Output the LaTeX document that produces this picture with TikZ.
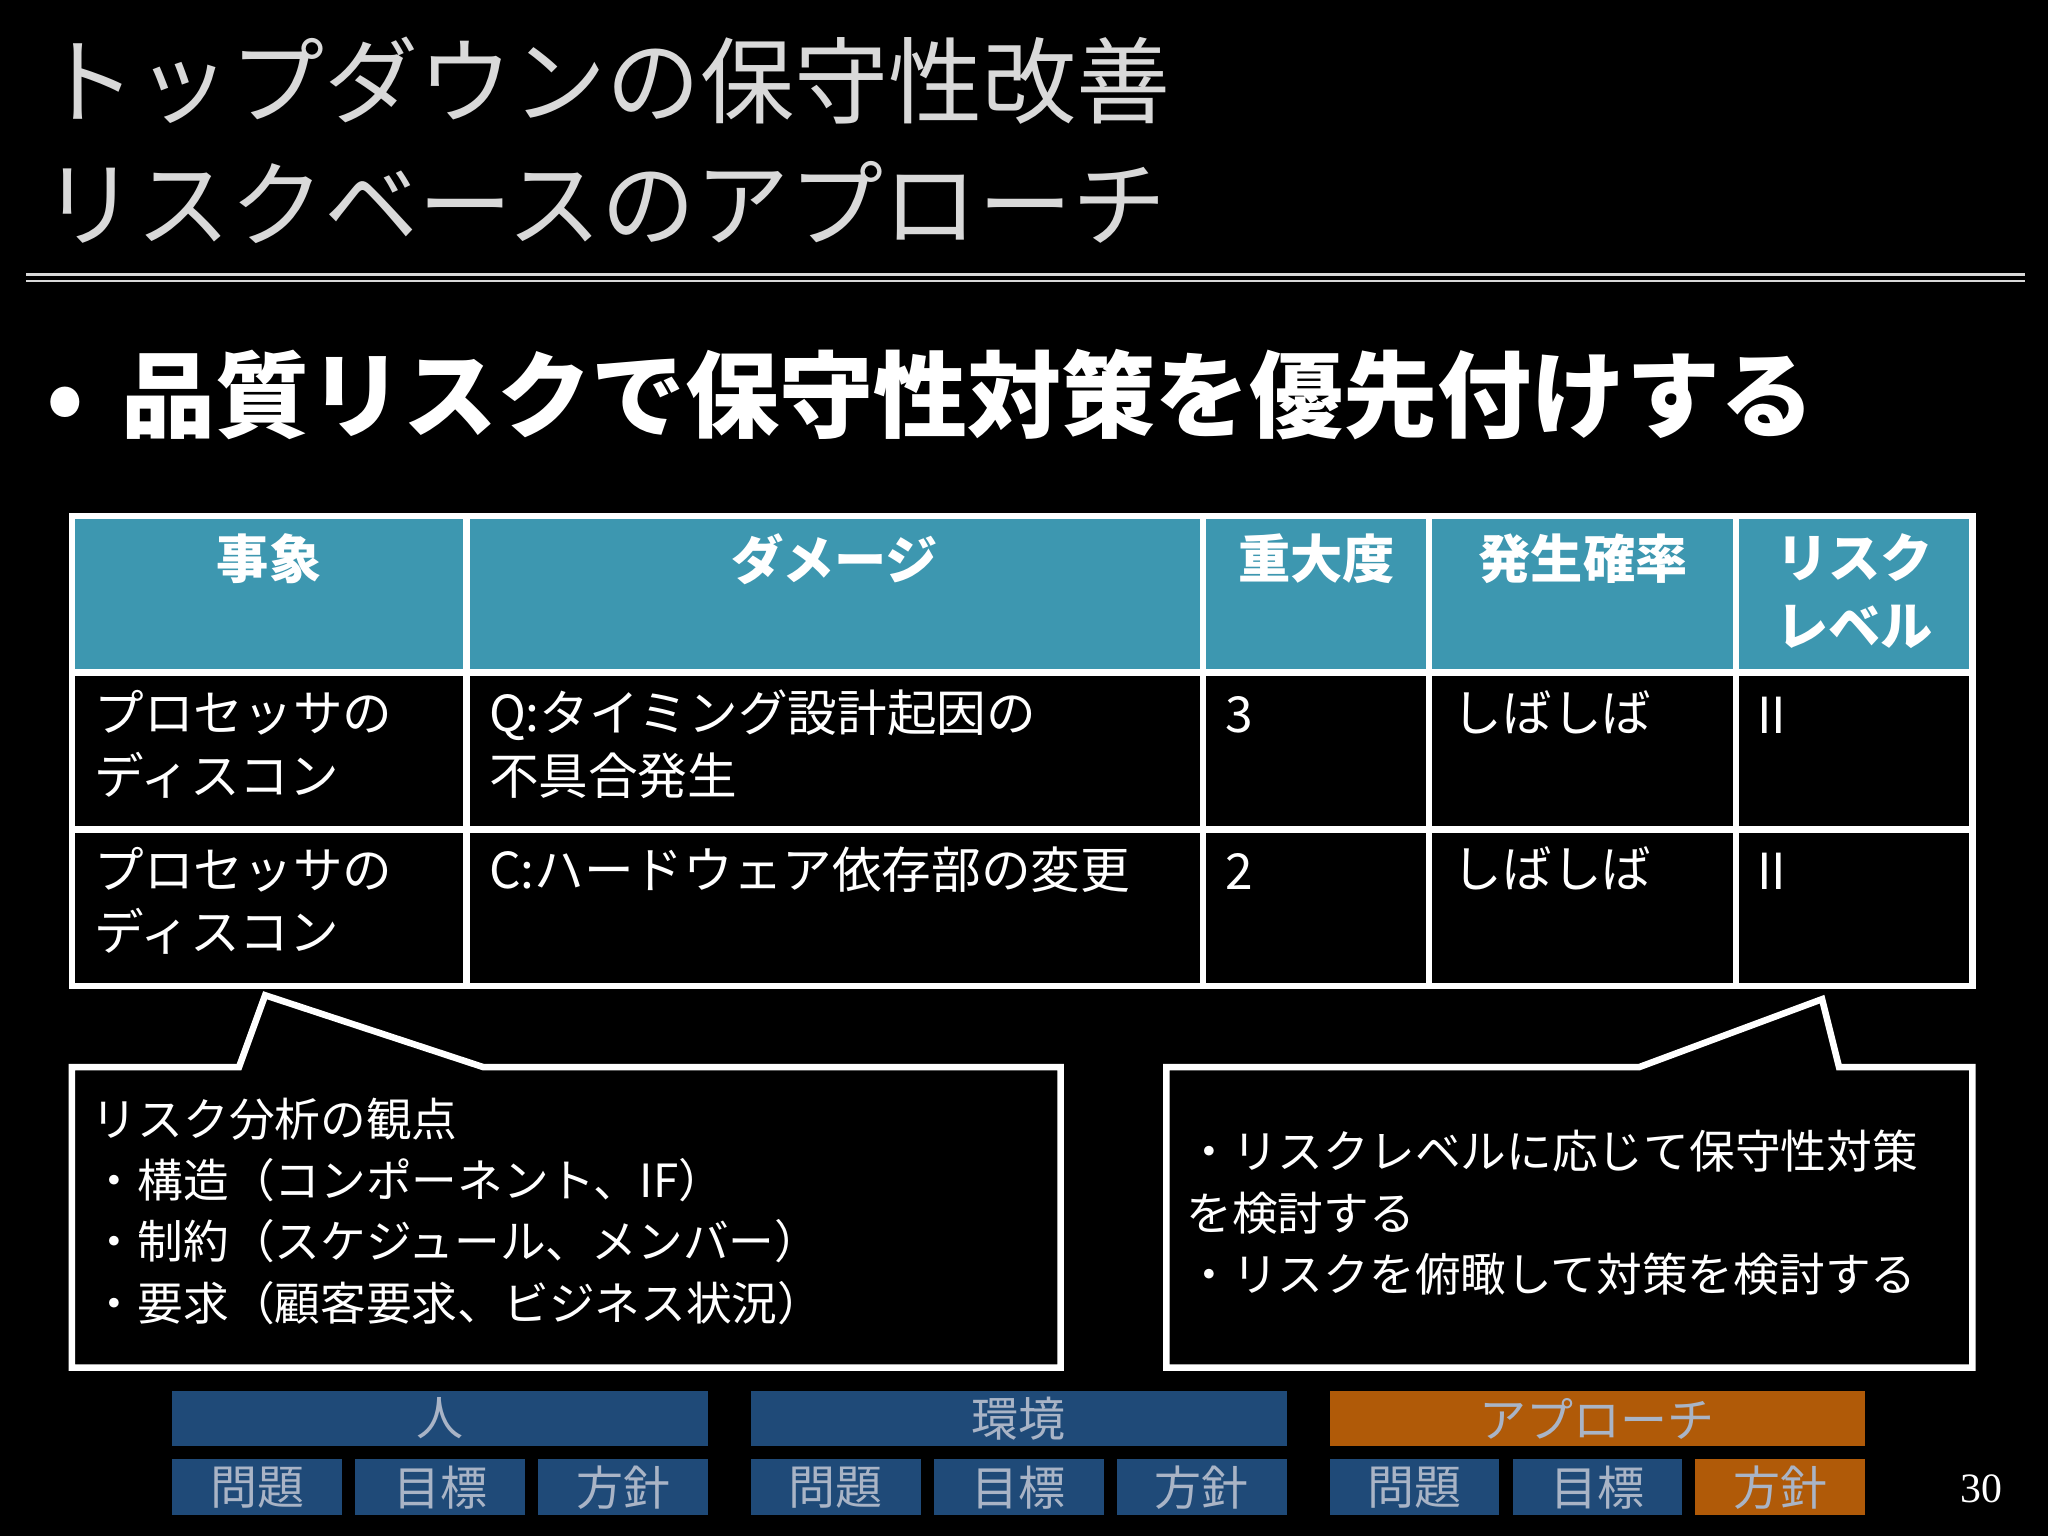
\documentclass[tikz,border=0pt]{standalone}
\usepackage{fontspec}
\setmainfont{Noto Sans CJK JP}
\newfontfamily\serifnum{Liberation Serif}
\definecolor{teal1}{HTML}{3D97B0}
\definecolor{bar}{HTML}{1F4A78}
\definecolor{orng}{HTML}{B05A08}
\definecolor{bartxt}{HTML}{A9B4C6}
\definecolor{ttl}{HTML}{D9D9D9}
\tikzset{
 cell/.style={anchor=north west,text=white,font=\fontsize{19}{24}\selectfont,align=left,inner sep=0pt},
 hcell/.style={anchor=north,text=white,font=\bfseries\fontsize{20}{26}\selectfont,align=center,inner sep=0pt},
 bartext/.style={text=bartxt,font=\fontsize{18}{20}\selectfont},
 line/.style={draw=white,line width=2.5pt},
}
\begin{document}
\begin{tikzpicture}[x=0.5pt,y=-0.5pt]
\fill[black] (0,0) rectangle (1568,1176);
\useasboundingbox (0,0) rectangle (1568,1176);
% title
\node[anchor=west,text=ttl,font=\fontsize{36}{40}\selectfont,inner sep=0pt] (t1) at (32,62) {トップダウンの保守性改善};
\node[anchor=west,text=ttl,font=\fontsize{36}{40}\selectfont,inner sep=0pt] (t2) at (32,155) {リスクベースのアプローチ};
\draw[ttl,line width=1pt] (20,210) -- (1550,210);
\draw[ttl,line width=1pt] (20,215) -- (1550,215);
\node[anchor=west,text=white,font=\bfseries\fontsize{36}{40}\selectfont,inner sep=0pt] (b) at (35,302) {•\hspace{0.4em}品質リスクで保守性対策を優先付けする};
% table
\fill[teal1] (55,395) rectangle (1510,515);
\draw[line] (55,395) rectangle (1510,755);
\foreach \x in {357,921,1094,1329} \draw[line] (\x,395) -- (\x,755);
\draw[line] (55,515) -- (1510,515);
\draw[line] (55,635) -- (1510,635);
\node[hcell] (h1) at (206,408) {事象};
\node[hcell] (h2) at (639,408) {ダメージ};
\node[hcell] (h3) at (1008,408) {重大度};
\node[hcell] (h4) at (1212,408) {発生確率};
\node[hcell] (h5) at (1420,408) {リスク\\レベル};
\node[cell] (a1) at (72,528) {プロセッサの\\ディスコン};
\node[cell] (a2) at (374,528) {Q:タイミング設計起因の\\不具合発生};
\node[cell] (a3) at (938,533) {3};
\node[cell] (a4) at (1112,528) {しばしば};
\node[cell] (a5) at (1345,533) {II};
\node[cell] (b1) at (72,648) {プロセッサの\\ディスコン};
\node[cell] (b2) at (374,648) {C:ハードウェア依存部の変更};
\node[cell] (b3) at (938,653) {2};
\node[cell] (b4) at (1112,648) {しばしば};
\node[cell] (b5) at (1345,653) {II};
% callouts
\draw[line,line join=miter] (183,817) -- (203,762) -- (370,817) -- (812,817) -- (812,1047) -- (55,1047) -- (55,817) -- cycle;
\draw[line,line join=miter] (1255,817) -- (1395,765) -- (1408,817) -- (1510,817) -- (1510,1047) -- (893,1047) -- (893,817) -- cycle;
\node[anchor=north west,text=white,font=\fontsize{17.5}{23.5}\selectfont,align=left,inner sep=0pt] (c1) at (70,840) {リスク分析の観点\\・構造（コンポーネント、IF）\\・制約（スケジュール、メンバー）\\・要求（顧客要求、ビジネス状況）};
\node[anchor=north west,text=white,font=\fontsize{17.5}{23.5}\selectfont,align=left,inner sep=0pt] (c2) at (908,865) {・リスクレベルに応じて保守性対策\\を検討する\\・リスクを俯瞰して対策を検討する};
% bottom bars
\foreach \x/\t/\c in {132/人/bar,575/環境/bar,1018/アプローチ/orng}{
  \fill[\c] (\x,1065) rectangle ++(410,42);
  \node[bartext] at (\x+205,1086) {\t};
  \fill[bar] (\x,1117) rectangle ++(130,43);
  \node[bartext] at (\x+65,1139) {問題};
  \fill[bar] (\x+140,1117) rectangle ++(130,43);
  \node[bartext] at (\x+205,1139) {目標};
}
\fill[bar] (272,1117) ++(140,0) rectangle ++(130,43);
\node[bartext] at (477,1139) {方針};
\fill[bar] (855,1117) rectangle ++(130,43);
\node[bartext] at (920,1139) {方針};
\fill[orng] (1298,1117) rectangle ++(130,43);
\node[bartext] at (1363,1139) {方針};
\node[text=white,font=\serifnum\fontsize{16}{18}\selectfont] (pg) at (1517,1140) {30};
\end{tikzpicture}
\end{document}
